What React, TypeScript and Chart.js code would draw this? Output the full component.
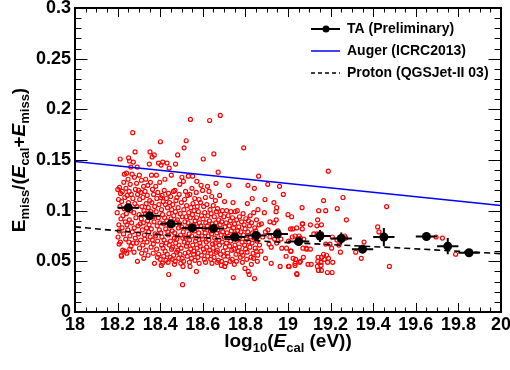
import React, { useEffect, useRef } from "react";
import { Chart, registerables } from "chart.js";

Chart.register(...registerables);

const FONT = "'Liberation Sans', Arial, Helvetica, sans-serif";

// ---- data ----
const xMin = 18;
const xMax = 20;
const yMin = 0;
const yMax = 0.3;
const xTickStep = 0.2;
const yTickStep = 0.05;

// TA (Preliminary) binned means
const taX = [18.25, 18.35, 18.45, 18.55, 18.65, 18.75, 18.85, 18.95, 19.05, 19.15, 19.25, 19.35, 19.45, 19.65, 19.75, 19.85];
const taY = [0.103, 0.095, 0.087, 0.083, 0.0825, 0.074, 0.0755, 0.077, 0.0695, 0.075, 0.0725, 0.062, 0.074, 0.0745, 0.065, 0.0585];
const taXErr = [0.05, 0.05, 0.05, 0.05, 0.05, 0.05, 0.05, 0.05, 0.05, 0.05, 0.05, 0.05, 0.05, 0.05, 0.05, 0.05];
const taYErr = [0.003, 0.003, 0.003, 0.002, 0.002, 0.002, 0.003, 0.003, 0.004, 0.006, 0.006, 0.004, 0.009, 0.003, 0.008, 0.003];

// Auger (ICRC2013)
const augerX = [18, 20];
const augerY = [0.1485, 0.105];

// Proton (QGSJet-II 03)
const protonX = [18, 18.5, 19, 19.5, 20];
const protonY = [0.084, 0.0745, 0.0685, 0.0635, 0.0576];

// individual events
const events: [number, number][] = [
  [18.201,0.121],[18.204,0.111],[18.198,0.098],[18.206,0.086],[18.202,0.074],[18.207,0.067],
  [18.212,0.151],[18.209,0.123],[18.214,0.117],[18.211,0.104],[18.216,0.092],[18.208,0.080],[18.213,0.069],[18.217,0.056],
  [18.222,0.119],[18.219,0.109],[18.225,0.095],[18.221,0.083],[18.224,0.061],[18.218,0.055],
  [18.232,0.136],[18.229,0.128],[18.234,0.113],[18.231,0.102],[18.236,0.089],[18.228,0.077],[18.233,0.060],
  [18.242,0.137],[18.239,0.122],[18.245,0.115],[18.241,0.097],[18.244,0.086],[18.238,0.072],[18.243,0.058],
  [18.252,0.152],[18.256,0.149],[18.249,0.131],[18.254,0.119],[18.251,0.108],[18.255,0.091],[18.248,0.081],[18.253,0.069],[18.257,0.062],
  [18.262,0.143],[18.259,0.126],[18.264,0.116],[18.261,0.100],[18.266,0.088],[18.258,0.075],[18.263,0.065],
  [18.271,0.177],[18.274,0.148],[18.268,0.136],[18.272,0.112],[18.276,0.098],[18.269,0.079],[18.273,0.068],[18.277,0.059],
  [18.282,0.158],[18.279,0.133],[18.284,0.121],[18.281,0.107],[18.286,0.093],[18.278,0.083],[18.283,0.073],
  [18.292,0.143],[18.289,0.127],[18.294,0.116],[18.291,0.104],[18.296,0.085],[18.288,0.068],[18.293,0.050],
  [18.302,0.135],[18.299,0.120],[18.304,0.111],[18.301,0.096],[18.306,0.087],[18.298,0.077],[18.303,0.063],
  [18.312,0.130],[18.309,0.118],[18.314,0.104],[18.311,0.092],[18.316,0.081],[18.308,0.071],[18.313,0.058],
  [18.322,0.124],[18.319,0.113],[18.324,0.100],[18.321,0.088],[18.326,0.076],[18.318,0.066],[18.323,0.053],
  [18.332,0.131],[18.329,0.119],[18.334,0.107],[18.331,0.097],[18.336,0.083],[18.328,0.072],[18.333,0.061],
  [18.342,0.125],[18.339,0.115],[18.344,0.103],[18.341,0.090],[18.346,0.079],[18.338,0.069],[18.343,0.056],
  [18.352,0.158],[18.349,0.146],[18.354,0.128],[18.351,0.110],[18.356,0.099],[18.348,0.086],[18.353,0.074],[18.357,0.064],
  [18.362,0.153],[18.359,0.135],[18.364,0.121],[18.361,0.108],[18.366,0.094],[18.358,0.082],[18.363,0.071],[18.367,0.058],
  [18.372,0.155],[18.369,0.116],[18.374,0.104],[18.371,0.089],[18.376,0.077],[18.368,0.067],[18.373,0.048],
  [18.382,0.135],[18.379,0.124],[18.384,0.112],[18.381,0.099],[18.386,0.085],[18.378,0.075],[18.383,0.062],[18.387,0.054],
  [18.392,0.147],[18.389,0.118],[18.394,0.106],[18.391,0.093],[18.396,0.081],[18.388,0.070],[18.393,0.057],
  [18.401,0.168],[18.404,0.145],[18.398,0.128],[18.402,0.113],[18.406,0.101],[18.399,0.088],[18.403,0.078],[18.407,0.066],[18.400,0.052],[18.405,0.046],
  [18.412,0.148],[18.409,0.115],[18.414,0.109],[18.411,0.096],[18.416,0.087],[18.408,0.074],[18.413,0.063],[18.417,0.055],[18.410,0.048],
  [18.422,0.131],[18.419,0.120],[18.424,0.106],[18.421,0.093],[18.426,0.082],[18.418,0.071],[18.423,0.060],[18.427,0.051],
  [18.432,0.147],[18.429,0.112],[18.434,0.103],[18.431,0.090],[18.436,0.079],[18.428,0.068],[18.433,0.057],[18.437,0.049],
  [18.442,0.142],[18.439,0.117],[18.444,0.108],[18.441,0.097],[18.446,0.085],[18.438,0.076],[18.443,0.066],[18.447,0.054],[18.440,0.037],
  [18.452,0.135],[18.449,0.114],[18.454,0.101],[18.451,0.092],[18.456,0.080],[18.448,0.070],[18.453,0.062],[18.457,0.052],
  [18.462,0.119],[18.459,0.106],[18.464,0.095],[18.461,0.086],[18.466,0.073],[18.458,0.064],[18.463,0.056],[18.467,0.047],
  [18.472,0.146],[18.469,0.120],[18.474,0.110],[18.471,0.099],[18.476,0.089],[18.468,0.078],[18.473,0.068],[18.477,0.059],[18.470,0.050],
  [18.482,0.155],[18.479,0.113],[18.484,0.103],[18.481,0.091],[18.486,0.083],[18.478,0.072],[18.483,0.061],[18.487,0.053],
  [18.492,0.126],[18.489,0.116],[18.494,0.097],[18.491,0.087],[18.496,0.076],[18.488,0.066],[18.493,0.057],[18.497,0.048],
  [18.502,0.133],[18.499,0.108],[18.504,0.094],[18.501,0.084],[18.506,0.073],[18.498,0.063],[18.503,0.053],[18.507,0.045],[18.505,0.027],
  [18.512,0.162],[18.509,0.129],[18.514,0.111],[18.511,0.101],[18.516,0.089],[18.508,0.079],[18.513,0.069],[18.517,0.058],[18.510,0.050],
  [18.522,0.169],[18.519,0.119],[18.524,0.105],[18.521,0.094],[18.526,0.083],[18.518,0.074],[18.523,0.065],[18.527,0.055],
  [18.532,0.134],[18.529,0.115],[18.534,0.098],[18.531,0.088],[18.536,0.077],[18.528,0.068],[18.533,0.059],[18.537,0.049],
  [18.542,0.190],[18.539,0.116],[18.544,0.103],[18.541,0.093],[18.546,0.082],[18.538,0.071],[18.543,0.062],[18.547,0.053],[18.540,0.045],
  [18.552,0.134],[18.549,0.122],[18.554,0.107],[18.551,0.096],[18.556,0.086],[18.548,0.075],[18.553,0.066],[18.557,0.057],
  [18.562,0.112],[18.559,0.100],[18.564,0.090],[18.561,0.080],[18.566,0.070],[18.558,0.060],[18.563,0.051],
  [18.572,0.129],[18.569,0.118],[18.574,0.104],[18.571,0.093],[18.576,0.084],[18.568,0.073],[18.573,0.063],[18.577,0.054],[18.570,0.040],
  [18.582,0.111],[18.579,0.099],[18.584,0.088],[18.581,0.078],[18.586,0.068],[18.578,0.058],[18.583,0.048],
  [18.592,0.125],[18.589,0.108],[18.594,0.095],[18.591,0.085],[18.596,0.075],[18.588,0.065],[18.593,0.056],
  [18.602,0.151],[18.599,0.120],[18.604,0.104],[18.601,0.092],[18.606,0.082],[18.598,0.072],[18.603,0.062],[18.607,0.052],
  [18.612,0.113],[18.609,0.098],[18.614,0.088],[18.611,0.078],[18.616,0.069],[18.608,0.059],[18.613,0.049],
  [18.622,0.124],[18.619,0.106],[18.624,0.095],[18.621,0.085],[18.626,0.075],[18.618,0.064],[18.623,0.055],
  [18.632,0.189],[18.629,0.119],[18.634,0.101],[18.631,0.090],[18.636,0.080],[18.628,0.071],[18.633,0.061],[18.637,0.052],
  [18.642,0.114],[18.639,0.097],[18.644,0.087],[18.641,0.077],[18.646,0.067],[18.638,0.058],[18.643,0.048],
  [18.652,0.156],[18.649,0.105],[18.654,0.094],[18.651,0.083],[18.656,0.073],[18.648,0.063],[18.653,0.054],
  [18.662,0.127],[18.659,0.110],[18.664,0.099],[18.661,0.088],[18.666,0.078],[18.658,0.068],[18.663,0.059],[18.667,0.049],
  [18.672,0.138],[18.669,0.102],[18.674,0.091],[18.671,0.081],[18.676,0.071],[18.668,0.061],[18.673,0.051],
  [18.682,0.194],[18.679,0.115],[18.684,0.096],[18.681,0.086],[18.686,0.076],[18.678,0.066],[18.683,0.057],[18.687,0.046],
  [18.692,0.100],[18.689,0.089],[18.694,0.079],[18.691,0.069],[18.696,0.060],[18.688,0.050],
  [18.702,0.109],[18.699,0.094],[18.704,0.084],[18.701,0.074],[18.706,0.064],[18.698,0.055],[18.703,0.045],
  [18.712,0.100],[18.709,0.088],[18.714,0.078],[18.711,0.068],[18.716,0.058],[18.708,0.048],
  [18.722,0.125],[18.719,0.095],[18.724,0.085],[18.721,0.075],[18.726,0.065],[18.718,0.055],
  [18.732,0.099],[18.729,0.090],[18.734,0.080],[18.731,0.070],[18.736,0.061],[18.728,0.050],
  [18.742,0.108],[18.739,0.093],[18.744,0.083],[18.741,0.073],[18.746,0.062],[18.738,0.052],[18.743,0.034],
  [18.752,0.099],[18.749,0.087],[18.754,0.077],[18.751,0.066],[18.756,0.057],[18.748,0.047],
  [18.762,0.100],[18.759,0.091],[18.764,0.080],[18.761,0.071],[18.766,0.060],[18.758,0.050],
  [18.772,0.094],[18.769,0.084],[18.774,0.074],[18.771,0.064],[18.776,0.054],
  [18.782,0.089],[18.779,0.079],[18.784,0.069],[18.781,0.059],[18.786,0.049],
  [18.792,0.162],[18.789,0.097],[18.794,0.086],[18.791,0.076],[18.796,0.066],[18.788,0.056],
  [18.802,0.092],[18.799,0.082],[18.804,0.072],[18.801,0.062],[18.806,0.052],[18.798,0.043],
  [18.812,0.125],[18.809,0.107],[18.814,0.090],[18.811,0.079],[18.816,0.069],[18.808,0.059],[18.813,0.040],
  [18.822,0.095],[18.819,0.085],[18.824,0.074],[18.821,0.064],[18.826,0.054],[18.818,0.037],
  [18.832,0.112],[18.829,0.088],[18.834,0.078],[18.831,0.068],[18.836,0.058],[18.828,0.047],
  [18.842,0.122],[18.839,0.098],[18.844,0.083],[18.841,0.073],[18.846,0.063],[18.838,0.053],[18.843,0.033],
  [18.852,0.091],[18.849,0.080],[18.854,0.070],[18.851,0.060],[18.856,0.050],
  [18.862,0.134],[18.859,0.101],[18.864,0.086],[18.861,0.076],[18.866,0.066],[18.858,0.056],
  [18.892,0.111],[18.934,0.108],[18.978,0.116],[18.889,0.098],[18.947,0.103],[18.944,0.099],[18.875,0.087],
  [18.915,0.089],[18.934,0.088],[18.945,0.091],[18.953,0.080],[18.894,0.079],[18.906,0.081],[18.881,0.074],
  [18.915,0.074],[18.937,0.072],[18.967,0.072],[18.911,0.067],[18.947,0.068],[18.921,0.064],[18.971,0.063],
  [18.993,0.063],[18.873,0.060],[18.894,0.053],[18.921,0.048],[18.963,0.045],[19.002,0.045],[19.041,0.038],
  [19.013,0.060],[18.991,0.055],[19.024,0.053],[19.058,0.050],[19.072,0.054],[19.033,0.046],[19.020,0.074],
  [19.045,0.071],[19.067,0.082],[19.067,0.087],[19.052,0.075],[19.088,0.062],[19.094,0.047],[19.141,0.054],
  [19.140,0.050],[19.138,0.045],[19.143,0.041],[19.167,0.057],[19.170,0.052],[19.186,0.049],[19.185,0.039],
  [19.177,0.067],[18.905,0.126],[18.960,0.124],
  [19.189,0.139],[19.167,0.110],[19.258,0.113],[19.066,0.103],[19.144,0.100],[19.177,0.100],[19.231,0.102],
  [19.463,0.104],[19.017,0.094],[19.000,0.096],[19.139,0.091],[19.274,0.091],[19.069,0.087],[19.105,0.086],
  [19.136,0.085],[19.157,0.086],[19.012,0.082],[19.022,0.082],[19.041,0.083],[19.421,0.084],[19.427,0.079],
  [19.033,0.075],[19.121,0.077],[19.208,0.074],[19.230,0.071],[19.357,0.069],[19.070,0.063],[19.205,0.063],
  [19.318,0.059],[19.158,0.054],[19.344,0.053],[19.210,0.049],[19.109,0.047],[19.476,0.045],[19.157,0.041],
  [19.042,0.037],[19.207,0.039],[19.136,0.077],[19.157,0.077],[19.266,0.075],[19.271,0.073],[19.058,0.073],
  [19.074,0.072],[19.003,0.070],[19.086,0.063],[19.197,0.067],[19.239,0.066],[19.105,0.062],[19.246,0.059],
  [19.014,0.060],[19.181,0.056],[19.190,0.053],[19.036,0.052],[19.055,0.049],[19.155,0.049],[19.033,0.048],
  [19.155,0.046],[19.005,0.045],
  [19.695,0.074],[19.725,0.073],[19.787,0.057],
];

// ---- rich text helper ----
type Seg = { t: string; sub?: boolean; it?: boolean };
function drawRich(ctx: CanvasRenderingContext2D, segs: Seg[], cx: number, baseY: number, size: number, subSize: number, subDy: number) {
  const fontOf = (s: Seg) => `${s.it ? "italic " : ""}bold ${s.sub ? subSize : size}px ${FONT}`;
  const widths = segs.map((s) => {
    ctx.font = fontOf(s);
    return ctx.measureText(s.t).width;
  });
  const total = widths.reduce((a, b) => a + b, 0);
  let xx = cx - total / 2;
  ctx.textAlign = "left";
  ctx.textBaseline = "alphabetic";
  segs.forEach((s, i) => {
    ctx.font = fontOf(s);
    ctx.fillText(s.t, xx, baseY + (s.sub ? subDy : 0));
    xx += widths[i];
  });
}

const yTitle: Seg[] = [
  { t: "E" }, { t: "miss", sub: true }, { t: "/(" }, { t: "E", it: true }, { t: "cal", sub: true },
  { t: "+" }, { t: "E", it: true }, { t: "miss", sub: true }, { t: ")" },
];
const xTitle: Seg[] = [
  { t: "log" }, { t: "10", sub: true }, { t: "(" }, { t: "E", it: true }, { t: "cal", sub: true }, { t: " (eV))" },
];

const legendItems = [
  { label: "TA (Preliminary)", color: "#000000", dash: [] as number[], marker: true },
  { label: "Auger (ICRC2013)", color: "#0000ff", dash: [] as number[], marker: false },
  { label: "Proton (QGSJet-II 03)", color: "#000000", dash: [4, 3], marker: false },
];

const rootPlugin = {
  id: "rootStyle",
  beforeDatasetDraw(chart: any, args: any) {
    if (args.index !== 0) return;
    const { ctx } = chart;
    const x = chart.scales.x;
    const y = chart.scales.y;
    ctx.save();
    ctx.strokeStyle = "#000";
    ctx.lineWidth = 2;
    ctx.beginPath();
    for (let i = 0; i < taX.length; i++) {
      const px = x.getPixelForValue(taX[i]);
      const py = y.getPixelForValue(taY[i]);
      ctx.moveTo(x.getPixelForValue(taX[i] - taXErr[i]), py);
      ctx.lineTo(x.getPixelForValue(taX[i] + taXErr[i]), py);
      ctx.moveTo(px, y.getPixelForValue(taY[i] - taYErr[i]));
      ctx.lineTo(px, y.getPixelForValue(taY[i] + taYErr[i]));
    }
    ctx.stroke();
    ctx.restore();
  },
  afterDraw(chart: any) {
    const { ctx, chartArea: a } = chart;
    const x = chart.scales.x;
    const y = chart.scales.y;
    ctx.save();
    // tick marks (inside, on all four sides)
    ctx.strokeStyle = "#000";
    ctx.lineWidth = 1;
    ctx.beginPath();
    const nx = Math.round((xMax - xMin) / 0.05);
    for (let k = 0; k <= nx; k++) {
      const v = xMin + k * 0.05;
      const len = k % 4 === 0 ? 9 : 4.5;
      const px = Math.round(x.getPixelForValue(v)) + 0.5;
      ctx.moveTo(px, a.bottom);
      ctx.lineTo(px, a.bottom - len);
      ctx.moveTo(px, a.top);
      ctx.lineTo(px, a.top + len);
    }
    const ny = Math.round((yMax - yMin) / 0.01);
    for (let k = 0; k <= ny; k++) {
      const v = yMin + k * 0.01;
      const len = k % 5 === 0 ? 12.5 : 6.5;
      const py = Math.round(y.getPixelForValue(v)) + 0.5;
      ctx.moveTo(a.left, py);
      ctx.lineTo(a.left + len, py);
      ctx.moveTo(a.right, py);
      ctx.lineTo(a.right - len, py);
    }
    ctx.stroke();
    // frame
    ctx.lineWidth = 2;
    ctx.strokeRect(a.left, a.top, a.right - a.left, a.bottom - a.top);

    // axis titles
    ctx.fillStyle = "#000";
    drawRich(ctx, xTitle, (a.left + a.right) / 2, 347, 19, 13, 5);
    ctx.save();
    ctx.translate(25, (a.top + a.bottom) / 2);
    ctx.rotate(-Math.PI / 2);
    drawRich(ctx, yTitle, 0, 0, 19, 13, 4);
    ctx.restore();

    // legend
    legendItems.forEach((it, i) => {
      const ly = 29 + i * 22;
      ctx.save();
      ctx.strokeStyle = it.color;
      ctx.lineWidth = it.marker ? 2 : 1.5;
      ctx.setLineDash(it.dash);
      ctx.beginPath();
      ctx.moveTo(311, ly);
      ctx.lineTo(340, ly);
      ctx.stroke();
      ctx.setLineDash([]);
      if (it.marker) {
        ctx.fillStyle = "#000";
        ctx.beginPath();
        ctx.arc(326, ly, 3.5, 0, Math.PI * 2);
        ctx.fill();
      }
      ctx.fillStyle = "#000";
      ctx.font = `bold 14px ${FONT}`;
      ctx.textAlign = "left";
      ctx.textBaseline = "middle";
      ctx.fillText(it.label, 347, ly);
      ctx.restore();
    });
    ctx.restore();
  },
};

export default function App() {
  const canvasRef = useRef<HTMLCanvasElement | null>(null);

  useEffect(() => {
    document.body.style.margin = "0";
    const canvas = canvasRef.current;
    if (!canvas) return;
    const chart = new Chart(canvas, {
      type: "scatter",
      data: {
        datasets: [
          {
            label: "TA (Preliminary)",
            data: taX.map((v, i) => ({ x: v, y: taY[i] })),
            showLine: false,
            pointRadius: 4.5,
            pointBackgroundColor: "#000",
            pointBorderColor: "#000",
            pointBorderWidth: 0,
          },
          {
            label: "Auger (ICRC2013)",
            data: augerX.map((v, i) => ({ x: v, y: augerY[i] })),
            showLine: true,
            borderColor: "#0000ff",
            borderWidth: 1.5,
            pointRadius: 0,
          },
          {
            label: "Proton (QGSJet-II 03)",
            data: protonX.map((v, i) => ({ x: v, y: protonY[i] })),
            showLine: true,
            borderColor: "#000",
            borderWidth: 1.6,
            borderDash: [6, 4],
            pointRadius: 0,
          },
          {
            label: "events",
            data: events.map(([ex, ey]) => ({ x: ex, y: ey })),
            showLine: false,
            pointRadius: 2,
            pointBorderWidth: 1.2,
            pointBorderColor: "#ff0000",
            pointBackgroundColor: "rgba(0,0,0,0)",
          },
        ],
      },
      options: {
        responsive: false,
        animation: false,
        devicePixelRatio: 1,
        layout: { padding: { left: 0, top: 8, right: 9, bottom: 0 } },
        plugins: { legend: { display: false }, tooltip: { enabled: false } },
        scales: {
          x: {
            type: "linear",
            min: xMin,
            max: xMax,
            grid: { display: false, drawTicks: false },
            border: { display: false },
            afterFit: (s: any) => {
              s.height = 58;
              s.paddingLeft = 0;
              s.paddingRight = 0;
            },
            ticks: {
              stepSize: xTickStep,
              autoSkip: false,
              maxRotation: 0,
              minRotation: 0,
              padding: 2,
              color: "#000",
              font: { family: FONT, size: 18, weight: "bold" },
              callback: (v: any) => String(Number(Number(v).toFixed(1))),
            },
          },
          y: {
            type: "linear",
            min: yMin,
            max: yMax,
            grid: { display: false, drawTicks: false },
            border: { display: false },
            afterFit: (s: any) => {
              s.width = 75;
              s.paddingTop = 0;
              s.paddingBottom = 0;
            },
            ticks: {
              stepSize: yTickStep,
              autoSkip: false,
              padding: 4,
              color: "#000",
              font: { family: FONT, size: 18, weight: "bold" },
              callback: (v: any) => String(Number(Number(v).toFixed(2))),
            },
          },
        },
      },
      plugins: [rootPlugin],
    } as any);
    return () => chart.destroy();
  }, []);

  return (
    <div style={{ position: "absolute", left: 0, top: 0, width: 510, height: 370, background: "#fff" }}>
      <canvas ref={canvasRef} width={510} height={370} style={{ display: "block" }} />
    </div>
  );
}
